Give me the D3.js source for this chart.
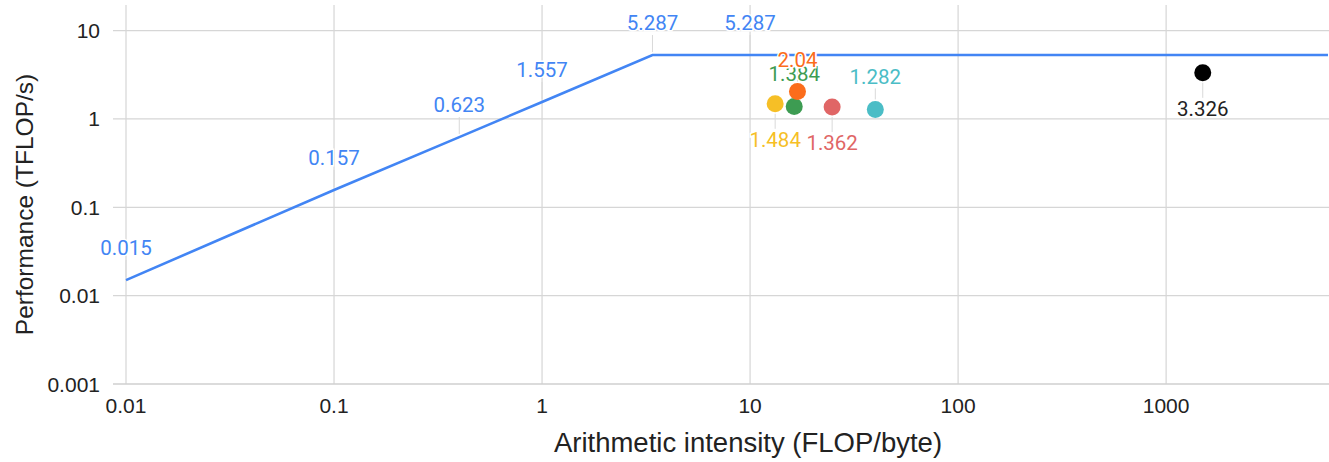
<!DOCTYPE html>
<html>
<head>
<meta charset="utf-8">
<script src="https://cdn.jsdelivr.net/npm/d3@7"></script>
<style>
    body { margin: 0; background: #fff; }
    #roofline_container { width: 1329px; height: 462px; }
</style>
</head>
<body>
<div id="roofline_container"></div>
<script>
// Roofline (memory bound slope, then compute ceiling)
const rooflineX = [0.01, 0.1, 0.4, 1, 3.395, 10, 6000];
const rooflineY = [0.015, 0.157, 0.623, 1.557, 5.287, 5.287, 5.287];
const rooflineLabels = ["0.015", "0.157", "0.623", "1.557", "5.287", "5.287", ""];

// Measured kernels
const kernelX = [13.2, 16.3, 16.9, 24.8, 40, 1500];
const kernelY = [1.484, 1.384, 2.04, 1.362, 1.282, 3.326];
const kernelLabels = ["1.484", "1.384", "2.04", "1.362", "1.282", "3.326"];
const kernelColors = ["#f6bf26", "#3d9c52", "#fb6d1c", "#e06666", "#4bbdc6", "#000000"];
const kernelLabelSide = ["below", "above", "above", "below", "above", "below"];

const xTicks = [0.01, 0.1, 1, 10, 100, 1000];
const yTicks = [0.001, 0.01, 0.1, 1, 10];

function drawRoofline() {
    var width = 1329, height = 462;

    var svg = d3.select("#roofline_container")
        .append("svg")
        .attr("width", width)
        .attr("height", height);

    var x = d3.scaleLog()
        .domain([0.01, 6000])
        .range([126, 1328]);

    var y = d3.scaleLog()
        .domain([0.001, 20])
        .range([384, 4]);

    // Grid lines
    svg.append("g")
        .selectAll("line")
        .data(xTicks)
        .enter().append("line")
        .attr("x1", d => x(d)).attr("x2", d => x(d))
        .attr("y1", y(20) + 1).attr("y2", y(0.001))
        .attr("stroke", "#d6d6d6")
        .attr("stroke-width", 1.2);

    svg.append("g")
        .selectAll("line")
        .data(yTicks)
        .enter().append("line")
        .attr("x1", 113).attr("x2", width)
        .attr("y1", d => y(d)).attr("y2", d => y(d))
        .attr("stroke", d => d === 0.001 ? "#cfcfcf" : "#d6d6d6")
        .attr("stroke-width", d => d === 0.001 ? 1.6 : 1.2);

    // Tick labels
    svg.append("g")
        .selectAll("text")
        .data(yTicks)
        .enter().append("text")
        .attr("x", 100)
        .attr("y", d => y(d) + 7.5)
        .attr("text-anchor", "end")
        .style("font-family", "'Liberation Sans', Arial, sans-serif")
        .style("font-size", "21px")
        .attr("fill", "#222")
        .text(d => d);

    svg.append("g")
        .selectAll("text")
        .data(xTicks)
        .enter().append("text")
        .attr("x", d => x(d))
        .attr("y", 413)
        .attr("text-anchor", "middle")
        .style("font-family", "'Liberation Sans', Arial, sans-serif")
        .style("font-size", "21px")
        .attr("fill", "#222")
        .text(d => d);

    // Axis titles
    svg.append("text")
        .attr("x", 748)
        .attr("y", 452)
        .attr("text-anchor", "middle")
        .style("font-family", "'Liberation Sans', Arial, sans-serif")
        .style("font-size", "27.5px")
        .attr("fill", "#222")
        .text("Arithmetic intensity (FLOP/byte)");

    svg.append("text")
        .attr("transform", "translate(33,204.5) rotate(-90)")
        .attr("text-anchor", "middle")
        .style("font-family", "'Liberation Sans', Arial, sans-serif")
        .style("font-size", "24.5px")
        .attr("fill", "#222")
        .text("Performance (TFLOP/s)");

    var roof = rooflineX.map((d, i) => ({ x: d, y: rooflineY[i], label: rooflineLabels[i] }));
    var kernels = kernelX.map((d, i) => ({
        x: d, y: kernelY[i], label: kernelLabels[i],
        color: kernelColors[i], side: kernelLabelSide[i]
    }));

    // Leader stems for labels
    svg.append("g")
        .selectAll("line")
        .data(roof.filter(d => d.label))
        .enter().append("line")
        .attr("x1", d => x(d.x)).attr("x2", d => x(d.x))
        .attr("y1", d => y(d.y) - 3).attr("y2", d => y(d.y) - 20)
        .attr("stroke", "#d9d9d9")
        .attr("stroke-width", 1);

    svg.append("g")
        .selectAll("line")
        .data(kernels)
        .enter().append("line")
        .attr("x1", d => x(d.x)).attr("x2", d => x(d.x))
        .attr("y1", d => d.side === "above" ? y(d.y) - 10 : y(d.y) + 10)
        .attr("y2", d => d.side === "above" ? y(d.y) - 21 : y(d.y) + 25)
        .attr("stroke", "#d9d9d9")
        .attr("stroke-width", 1);

    // Roofline
    var line = d3.line()
        .x(d => x(d.x))
        .y(d => y(d.y));

    svg.append("path")
        .datum(roof)
        .attr("fill", "none")
        .attr("stroke", "#4285f4")
        .attr("stroke-width", 2.6)
        .attr("d", line);

    // Kernel dots
    svg.append("g")
        .selectAll("circle")
        .data(kernels)
        .enter().append("circle")
        .attr("cx", d => x(d.x))
        .attr("cy", d => y(d.y))
        .attr("r", 8.5)
        .style("fill", d => d.color);

    // Data labels (white halo like the sheets annotations)
    svg.append("g")
        .selectAll("text")
        .data(roof.filter(d => d.label))
        .enter().append("text")
        .attr("x", d => x(d.x))
        .attr("y", d => y(d.y) - 25)
        .attr("text-anchor", "middle")
        .style("font-family", "Roboto, sans-serif")
        .style("font-size", "20.5px")
        .attr("fill", "#4285f4")
        .attr("stroke", "#fff")
        .attr("stroke-width", 3)
        .attr("paint-order", "stroke")
        .text(d => d.label);

    svg.append("g")
        .selectAll("text")
        .data(kernels)
        .enter().append("text")
        .attr("x", d => x(d.x))
        .attr("y", d => d.side === "above" ? y(d.y) - 25 : y(d.y) + 43)
        .attr("text-anchor", "middle")
        .style("font-family", "Roboto, sans-serif")
        .style("font-size", "20.5px")
        .attr("fill", d => d.color === "#000000" ? "#222" : d.color)
        .attr("stroke", "#fff")
        .attr("stroke-width", 3)
        .attr("paint-order", "stroke")
        .text(d => d.label);
}

drawRoofline();
</script>
</body>
</html>
